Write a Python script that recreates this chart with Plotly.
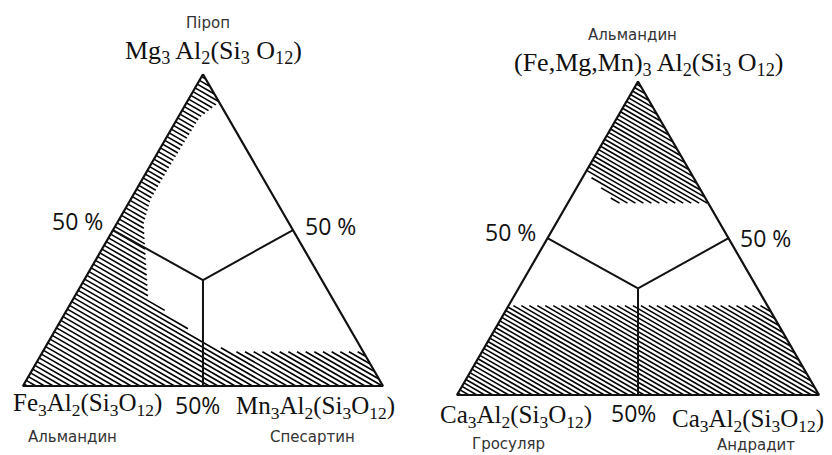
import numpy as np
import plotly.graph_objects as go

# ternary points are given as (top fraction, bottom-right fraction);
# bottom-left fraction = 1 - top - right

# --- left diagram: Pyrope (top), Almandine (left), Spessartine (right) ---
left_junction_top = 0.34
left_junction_right = 0.33
left_ties_top = [0.5, 0.5, 0.0]
left_ties_right = [0.0, 0.5, 0.5]
left_hatch_top = [1.0, 0.91, 0.86, 0.70, 0.60, 0.52, 0.285, 0.15, 0.11, 0.11, 0.0, 0.0]
left_hatch_right = [0.0, 0.09, 0.06, 0.055, 0.055, 0.075, 0.205, 0.42, 0.52, 0.89, 1.0, 0.0]

# --- right diagram: Almandine group (top), Grossular (left), Andradite (right) ---
right_junction_top = 0.34
right_junction_right = 0.33
right_ties_top = [0.5, 0.5, 0.0]
right_ties_right = [0.0, 0.5, 0.5]
right_hatch1_top = [1.0, 0.612, 0.612, 0.712]
right_hatch1_right = [0.0, 0.388, 0.132, 0.0]
right_hatch2_top = [0.285, 0.285, 0.0, 0.0]
right_hatch2_right = [0.0, 0.715, 1.0, 0.0]

frame_top = [1.0, 0.0, 0.0, 1.0]
frame_right = [0.0, 1.0, 0.0, 0.0]

H = np.sqrt(3) / 2


def to_xy(top, right):
    top = np.asarray(top, float)
    right = np.asarray(right, float)
    return right + top / 2, top * H


def hatch(top, right, step, slope):
    xs, ys = to_xy(top, right)
    xs = list(xs) + [xs[0]]
    ys = list(ys) + [ys[0]]
    ks = [y + slope * x for x, y in zip(xs, ys)]
    hx, hy = [], []
    for k in np.arange(min(ks) + step / 2, max(ks), step):
        cuts = []
        for i in range(len(xs) - 1):
            f1 = ys[i] + slope * xs[i] - k
            f2 = ys[i + 1] + slope * xs[i + 1] - k
            if (f1 < 0) != (f2 < 0):
                s = f1 / (f1 - f2)
                cuts.append(xs[i] + s * (xs[i + 1] - xs[i]))
        cuts.sort()
        for a, b in zip(cuts[0::2], cuts[1::2]):
            hx += [a, b, None]
            hy += [k - slope * a, k - slope * b, None]
    return hx, hy


fig = go.Figure()
slope = np.tan(np.radians(30))


def add_diagram(xa, ya, regions, jt, jr, ties_t, ties_r, step):
    for t, r in regions:
        hx, hy = hatch(t, r, step, slope)
        fig.add_trace(go.Scatter(x=hx, y=hy, mode="lines", xaxis=xa, yaxis=ya,
                                 line=dict(color="#000", width=1.6),
                                 hoverinfo="skip", showlegend=False))
    for t, r in zip(ties_t, ties_r):
        x, y = to_xy([jt, t], [jr, r])
        fig.add_trace(go.Scatter(x=x, y=y, mode="lines", xaxis=xa, yaxis=ya,
                                 line=dict(color="#111", width=2),
                                 hoverinfo="skip", showlegend=False))
    x, y = to_xy(frame_top, frame_right)
    fig.add_trace(go.Scatter(x=x, y=y, mode="lines", xaxis=xa, yaxis=ya,
                             line=dict(color="#111", width=2.2),
                             hoverinfo="skip", showlegend=False))


add_diagram("x", "y", [(left_hatch_top, left_hatch_right)],
            left_junction_top, left_junction_right,
            left_ties_top, left_ties_right, 5.0 / 360)
add_diagram("x2", "y2", [(right_hatch1_top, right_hatch1_right),
                         (right_hatch2_top, right_hatch2_right)],
            right_junction_top, right_junction_right,
            right_ties_top, right_ties_right, 4.6 / 362)

serif = "Liberation Serif"
sans = "Open Sans"
label_font = "DejaVu Sans"

labels = [
    ("Піроп", 0.240, 0.967, label_font, 15, "#333"),
    ("Mg<sub>3</sub> Al<sub>2</sub>(Si<sub>3</sub> O<sub>12</sub>)", 0.247, 0.903, serif, 26, "#111"),
    ("50 %", 0.083, 0.532, sans, 23, "#111"),
    ("50 %", 0.388, 0.521, sans, 23, "#111"),
    ("Fe<sub>3</sub>Al<sub>2</sub>(Si<sub>3</sub>O<sub>12</sub>)", 0.095, 0.1275, serif, 25, "#111"),
    ("50%", 0.228, 0.1275, sans, 23, "#111"),
    ("Mn<sub>3</sub>Al<sub>2</sub>(Si<sub>3</sub>O<sub>12</sub>)", 0.370, 0.123, serif, 25, "#111"),
    ("Альмандин", 0.077, 0.057, label_font, 15, "#333"),
    ("Спесартин", 0.366, 0.057, label_font, 15, "#333"),
    ("Альмандин", 0.750, 0.941, label_font, 15, "#333"),
    ("(Fe,Mg,Mn)<sub>3</sub> Al<sub>2</sub>(Si<sub>3</sub> O<sub>12</sub>)", 0.770, 0.877, serif, 26, "#111"),
    ("50 %", 0.604, 0.508, sans, 23, "#111"),
    ("50 %", 0.911, 0.4945, sans, 23, "#111"),
    ("Ca<sub>3</sub>Al<sub>2</sub>(Si<sub>3</sub>O<sub>12</sub>)", 0.611, 0.103, serif, 25, "#111"),
    ("50%", 0.752, 0.110, sans, 23, "#111"),
    ("Ca<sub>3</sub>Al<sub>2</sub>(Si<sub>3</sub>O<sub>12</sub>)", 0.889, 0.0945, serif, 25, "#111"),
    ("Гросуляр", 0.602, 0.042, label_font, 15, "#333"),
    ("Андрадит", 0.899, 0.040, label_font, 15, "#333"),
]
for text, x, y, fam, size, col in labels:
    fig.add_annotation(text=text, x=x, y=y, xref="paper", yref="paper",
                       showarrow=False, xanchor="center", yanchor="middle",
                       font=dict(family=fam, size=size, color=col))

hidden = dict(visible=False, fixedrange=True)
fig.update_layout(
    width=832, height=455,
    margin=dict(l=0, r=0, t=0, b=0),
    paper_bgcolor="white", plot_bgcolor="white",
    xaxis=dict(range=[-0.03, 1.07], domain=[0.0050, 0.4810], **hidden),
    yaxis=dict(range=[-0.1, 1.0], domain=[0.0901, 0.9604], **hidden),
    xaxis2=dict(range=[-0.05, 1.04], domain=[0.5179, 0.9922], anchor="y2", **hidden),
    yaxis2=dict(range=[-0.1, 1.0], domain=[0.0699, 0.9451], anchor="x2", **hidden),
)

fig.write_html("out.html")
